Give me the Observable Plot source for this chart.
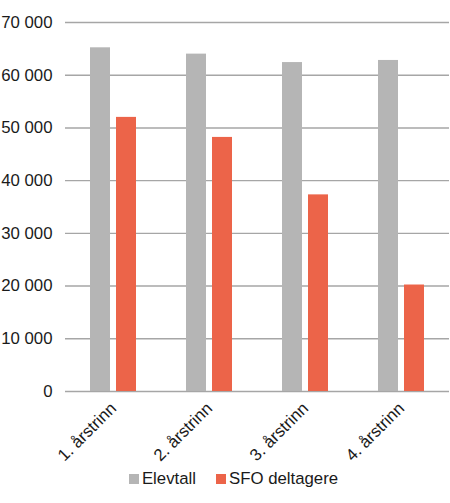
<!DOCTYPE html>
<html><head><meta charset="utf-8">
<script src="https://cdn.jsdelivr.net/npm/d3@7"></script>
<script src="https://cdn.jsdelivr.net/npm/@observablehq/plot@0.6"></script>
<style>
body{margin:0;background:#fff;font-family:"Liberation Sans",Arial,sans-serif;}
#legend{display:flex;justify-content:center;align-items:center;gap:20px;font-size:16.8px;color:#1a1a1a;margin-top:3px;line-height:20px;padding-left:17px;}
#legend span.item{display:flex;align-items:center;}
#legend i{display:inline-block;width:10px;height:10px;margin-right:3px;}
</style></head><body><div id="chart"></div><div id="legend"></div>
<script>
const categories = ["1. årstrinn","2. årstrinn","3. årstrinn","4. årstrinn"];
const series = ["Elevtall","SFO deltagere"];
const elevtall = [65200, 64000, 62400, 62800];
const sfo = [52000, 48200, 37300, 20200];
const yTicks = [0,10000,20000,30000,40000,50000,60000,70000];
const colors = ["#b5b5b5","#ec6449"];

const data = categories.flatMap((c,i)=>[
  {cat:c, series:series[0], value:elevtall[i]},
  {cat:c, series:series[1], value:sfo[i]}
]);
const fmt = d3.formatLocale({thousands:"\u00a0", grouping:[3], decimal:",", currency:["",""]}).format(",");

const plot = Plot.plot({
  width:450, height:466, marginLeft:65, marginRight:1, marginTop:22, marginBottom:75,
  style:{fontFamily:"Liberation Sans, Arial, sans-serif", fontSize:"16.8px", color:"#1a1a1a", background:"#fff"},
  fx:{domain:categories, paddingInner:0, paddingOuter:0, label:null, axis:"bottom", tickRotate:-45, tickSize:0, tickPadding:14},
  x:{domain:series, axis:null, paddingInner:0.222, paddingOuter:0.889},
  y:{domain:[0,70000], ticks:yTicks, tickFormat:fmt, tickSize:0, tickPadding:13, label:null},
  color:{domain:series, range:colors},
  marks:[
    Plot.ruleY(yTicks,{stroke:"#a6a6a6", strokeWidth:1.4}),
    Plot.barY(data,{fx:"cat", x:"series", y:"value", fill:"series"})
  ]
});
document.getElementById("chart").appendChild(plot);

const legend = document.getElementById("legend");
series.forEach((s,i)=>{
  const item = document.createElement("span");
  item.className = "item";
  const sw = document.createElement("i");
  sw.style.background = colors[i];
  item.appendChild(sw);
  item.appendChild(document.createTextNode(s));
  legend.appendChild(item);
});
</script></body></html>
